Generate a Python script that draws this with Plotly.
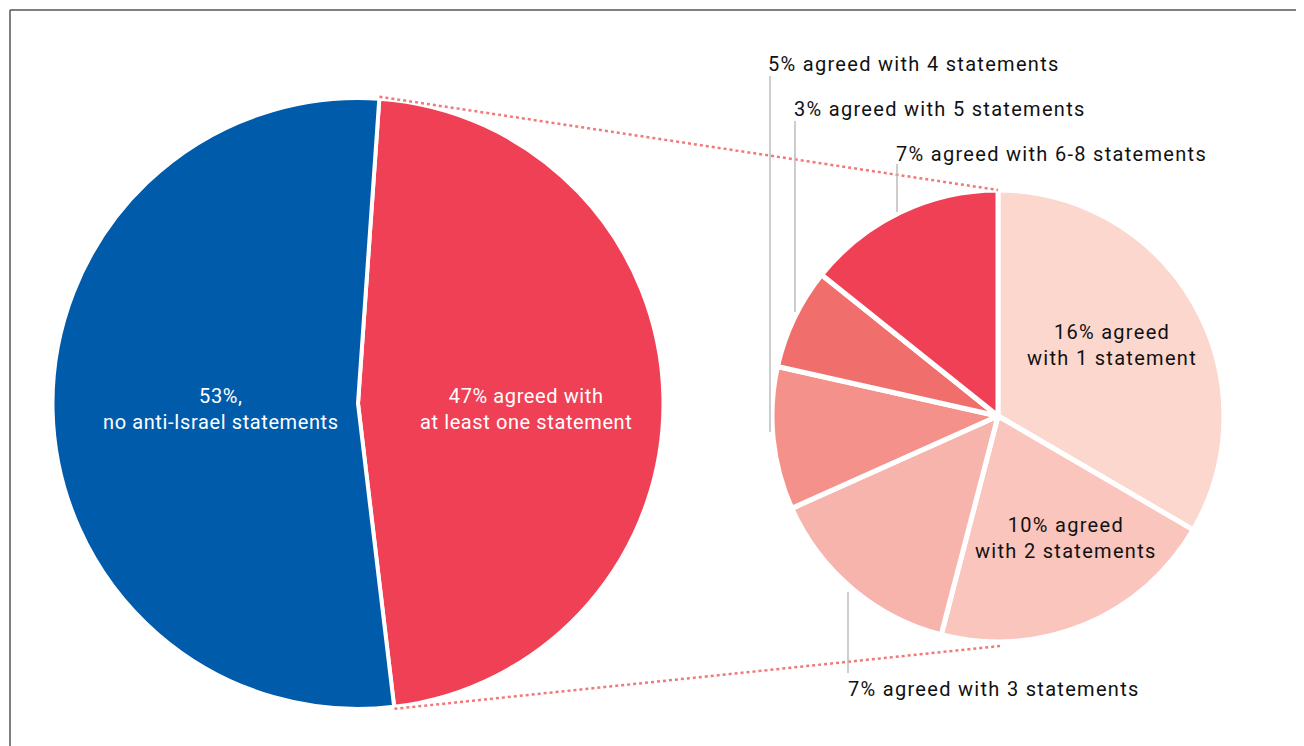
import math
import plotly.graph_objects as go

# ---------------- data ----------------
main_labels = ["At least one statement", "No anti-Israel statements"]
main_values = [47, 53]
main_text = [["47% agreed with", "at least one statement"], ["53%,", "no anti-Israel statements"]]

sub_labels = ["1 statement", "2 statements", "3 statements", "4 statements", "5 statements", "6-8 statements"]
sub_values = [15.7, 9.7, 6.7, 4.8, 3.4, 6.7]
sub_text = [["16% agreed", "with 1 statement"], ["10% agreed", "with 2 statements"],
            ["7% agreed with 3 statements"], ["5% agreed with 4 statements"],
            ["3% agreed with 5 statements"], ["7% agreed with 6-8 statements"]]

# ---------------- layout params ----------------
OFF = 8                      # default page body margin
W, H = 1304 - OFF, 746 - OFF
BLUE = "#005BAA"
RED = "#EF4056"
sub_colors = ["#FBD7CE", "#F9C5BD", "#F7B4AC", "#F4918A", "#F06E6C", RED]

L_CX, L_CY, L_R = 358, 403.5, 305.5
R_CX, R_CY, R_R = 998, 416, 226
L_ROT = 4.0


def px(x):
    return (x - OFF) / W


def py(y):
    return 1 - (y - OFF) / H


def dom(cx, cy, r):
    return dict(x=[px(cx - r), px(cx + r)], y=[py(cy + r), py(cy - r)])


def spaced(lines, ls):
    return "<br>".join(f'<span style="letter-spacing:{ls}px">{ln}</span>' for ln in lines)


fig = go.Figure()
fig.add_trace(go.Pie(
    labels=main_labels, values=main_values, sort=False, direction="clockwise",
    rotation=L_ROT, textinfo="none", hoverinfo="label+percent",
    marker=dict(colors=[RED, BLUE], line=dict(color="white", width=4)),
    domain=dom(L_CX, L_CY, L_R), showlegend=False,
))
fig.add_trace(go.Pie(
    labels=sub_labels, values=sub_values, sort=False, direction="clockwise",
    rotation=0, textinfo="none", hoverinfo="label+value",
    marker=dict(colors=sub_colors, line=dict(color="white", width=5)),
    domain=dom(R_CX, R_CY, R_R), showlegend=False,
))

FONT = "Roboto, 'Open Sans', sans-serif"
shapes = []
# frame
shapes.append(dict(type="line", xref="paper", yref="paper", x0=px(10), x1=px(1310), y0=py(10), y1=py(10),
                   line=dict(color="#555555", width=1.5)))
shapes.append(dict(type="line", xref="paper", yref="paper", x0=px(10), x1=px(10), y0=py(10), y1=py(760),
                   line=dict(color="#555555", width=1.5)))

# dotted connectors from the red slice edges to the breakdown pie
a0 = math.radians(L_ROT)
a1 = math.radians(L_ROT + 360 * main_values[0] / sum(main_values))
for ang, target in [(a0, (R_CX, R_CY - R_R)), (a1, (R_CX + 2, R_CY + R_R + 4))]:
    sx = L_CX + (L_R + 2) * math.sin(ang)
    sy = L_CY - (L_R + 2) * math.cos(ang)
    shapes.append(dict(type="line", xref="paper", yref="paper", x0=px(sx), y0=py(sy),
                       x1=px(target[0]), y1=py(target[1]),
                       line=dict(color="#F07A7A", width=2.5, dash="dot"), layer="above"))

# leader lines
leaders = [(770, 76, 432), (795, 121, 312), (897, 164, 212), (848, 592, 673)]
for x, y0, y1 in leaders:
    shapes.append(dict(type="line", xref="paper", yref="paper", x0=px(x), x1=px(x), y0=py(y0), y1=py(y1),
                       line=dict(color="#BDBDBD", width=1.5)))

ann = []
WS, WLS = 20, 0.6
BS, BLS = 20, 1.3
# main pie labels
ann.append(dict(x=px(526), y=py(409), text=spaced(main_text[0], WLS), font=dict(color="white", size=WS, family=FONT)))
ann.append(dict(x=px(221), y=py(409), text=spaced(main_text[1], WLS), font=dict(color="white", size=WS, family=FONT)))
# inner sub labels
ann.append(dict(x=px(1112), y=py(345), text=spaced(sub_text[0], BLS), font=dict(color="#111111", size=BS, family=FONT)))
ann.append(dict(x=px(1066), y=py(538), text=spaced(sub_text[1], BLS), font=dict(color="#111111", size=BS, family=FONT)))
# outer sub labels (left aligned)
outer = [(sub_text[3], 766, 64), (sub_text[4], 792, 109), (sub_text[5], 894, 154), (sub_text[2], 846, 689)]
for t, x, y in outer:
    ann.append(dict(x=px(x), y=py(y), text=spaced(t, BLS), xanchor="left",
                    font=dict(color="#111111", size=BS, family=FONT)))
for a in ann:
    a.update(xref="paper", yref="paper", showarrow=False, align="center")
    a.setdefault("xanchor", "center")
    a.setdefault("yanchor", "middle")

fig.update_layout(
    width=W, height=H, margin=dict(l=0, r=0, t=0, b=0),
    paper_bgcolor="white", plot_bgcolor="white",
    shapes=shapes, annotations=ann, showlegend=False,
)
fig.write_html("out.html")
